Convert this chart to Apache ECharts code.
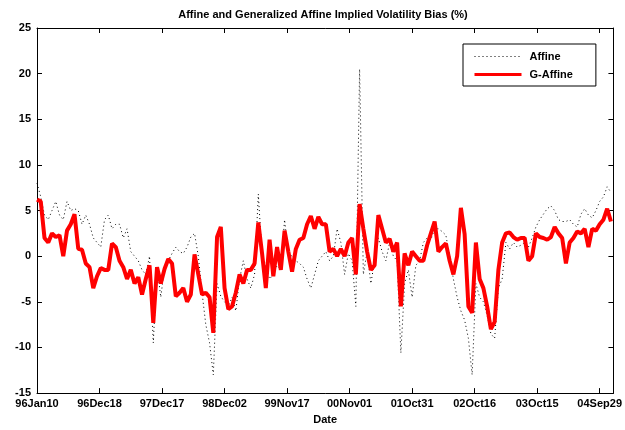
<!DOCTYPE html>
<html>
<head>
<meta charset="utf-8">
<script src="https://cdn.jsdelivr.net/npm/echarts@6/dist/echarts.min.js"></script>
<style>
    html, body { margin: 0; padding: 0; background: #fff; }
    #main { width: 625px; height: 430px; }
</style>
</head>
<body>
<div id="main"></div>
<script>
// one value read every 3rd weekly observation
var STEP = 3;
var X_MAX = 461;
var tickLabels = ["96Jan10", "96Dec18", "97Dec17", "98Dec02", "99Nov17",
    "00Nov01", "01Oct31", "02Oct16", "03Oct15", "04Sep29"];

var affine = [
    8.0, 6.5, 4.5, 4.0, 5.0, 6.0, 4.5, 4.0, 6.0, 5.0,
    5.2, 5.0, 3.5, 4.5, 3.5, 2.0, 1.5, 1.0, 4.0, 4.5,
    3.0, 3.5, 3.5, 2.0, 3.0, 0.5, 0.0, -0.5, -1.5, -2.0,
    0.0, -9.5, -1.2, -4.5, -1.2, -0.5, 0.3, 1.0, 0.5, 0.3,
    1.0, 2.1, 2.5, 0.0, -4.0, -7.5, -9.5, -13.0, -3.0, -4.4,
    -5.0, -5.5, -4.5, -6.0, -2.5, -0.5, -2.5, -3.5, -2.0, 6.8,
    0.0, -1.0, -2.5, -2.0, -1.0, -1.5, 4.0, 0.3, 0.0, -0.5,
    -0.8, -1.2, -2.5, -3.5, -2.0, -0.5, 0.0, 0.5, -0.5, 0.0,
    3.0, 1.5, -2.0, 0.3, -0.5, -5.5, 20.5, -2.0, 0.5, -3.0,
    -0.5, 2.0, 0.5, -0.5, 1.5, 0.0, -0.5, -10.6, -3.0, -1.5,
    -4.5, -1.0, -0.5, 1.5, 2.0, 1.8, 3.0, 3.0, 2.7, 2.3,
    0.0, -2.5, -4.5, -6.0, -7.0, -9.0, -13.0, -3.0, -4.5, -5.0,
    -6.5, -8.5, -9.0, -3.5, -2.5, 1.5, 0.8, 1.5, 1.0, 1.2,
    1.5, 1.0, 2.0, 3.2, 4.0, 4.6, 5.2, 5.5, 5.0, 4.0,
    3.8, 3.8, 4.0, 3.5, 3.2, 4.6, 5.2, 4.5, 4.2, 5.0,
    6.0, 6.5, 7.6, 7.0
];

var gAffine = [
    6.2, 6.0, 2.0, 1.5, 2.5, 2.1, 2.3, 0.0, 2.8, 3.5,
    4.6, 0.8, 0.7, -0.8, -1.2, -3.5, -2.2, -1.3, -1.5, -1.5,
    1.4, 1.0, -0.5, -1.2, -2.5, -1.5, -3.0, -2.3, -4.2, -2.5,
    -1.0, -7.3, -1.2, -3.0, -1.4, -0.3, -0.8, -4.4, -4.0, -3.5,
    -5.0, -4.2, 0.2, -2.0, -4.2, -4.0, -4.5, -8.4, 2.1, 3.2,
    -3.5, -5.8, -5.5, -4.0, -2.0, -3.0, -1.5, -1.5, -0.8, 3.7,
    0.3, -3.5, 1.8, -2.2, 1.0, -1.5, 2.8, 0.5, -1.7, 0.8,
    1.8, 2.0, 3.5, 4.4, 3.0, 4.3, 3.5, 3.5, 0.5, 0.8,
    0.0, 0.8, 0.0, 1.5, 2.0, -2.0, 5.7, 3.0, 0.5, -1.5,
    -1.0, 4.5, 3.0, 1.5, 1.9, 0.5, 1.5, -5.5, 0.3, -1.0,
    0.5, 0.0, -0.5, -0.5, 1.2, 2.5, 3.8, 0.5, 1.0, 1.4,
    -0.5, -2.0, 0.0, 5.3, 2.4, -5.5, -6.2, 1.5, -2.5, -3.5,
    -5.5, -8.0, -7.2, -1.5, 1.5, 2.5, 2.6, 2.1, 1.8, 2.0,
    2.0, -0.5, 0.0, 2.5, 2.1, 2.0, 1.8, 2.1, 3.2, 2.5,
    2.0, -0.8, 1.5, 2.0, 2.7, 2.5, 3.0, 1.0, 3.0, 2.8,
    3.5, 4.0, 5.2, 3.8
];

(function () {
    var myChart = echarts.init(document.getElementById("main"));
    var font = "'Liberation Sans', Arial, Helvetica, sans-serif";
    function pairs(arr) {
        return arr.map(function (v, i) { return [i * STEP, v]; });
    }
    // MATLAB style box: ticks inside on all four sides, axis lines on the frame
    var boxAxis = {
        axisLine: { show: true, onZero: false, lineStyle: { color: "#000", width: 1 } },
        axisTick: { show: true, inside: true, length: 5, lineStyle: { color: "#000" } },
        splitLine: { show: false }
    };
    var option = {
        animation: false,
        textStyle: { fontFamily: font },
        title: {
            text: "Affine and Generalized Affine Implied Volatility Bias (%)",
            left: 318,
            textAlign: "center",
            top: 4,
            textStyle: { fontSize: 11, fontWeight: "bold", color: "#000", fontFamily: font }
        },
        grid: { left: 37, right: 7, top: 28, bottom: 32 },
        legend: {
            orient: "vertical",
            left: 463,
            top: 44,
            itemWidth: 47,
            itemHeight: 12,
            itemGap: 7,
            padding: [7, 23, 6, 10],
            borderColor: "#000",
            borderWidth: 1,
            backgroundColor: "#fff",
            textStyle: { fontSize: 11, fontWeight: "bold", color: "#000", padding: [0, 0, 0, 3] },
            data: [
                {
                    name: "Affine",
                    itemStyle: { opacity: 0, borderWidth: 0 },
                    lineStyle: { color: "#000", width: 1, type: [1, 3] }
                },
                {
                    name: "G-Affine",
                    itemStyle: { opacity: 0, borderWidth: 0 },
                    lineStyle: { color: "#ff0000", width: 3 }
                }
            ]
        },
        xAxis: [
            Object.assign({
                type: "value",
                min: 0,
                max: X_MAX,
                interval: 50,
                name: "Date",
                nameLocation: "middle",
                nameGap: 20,
                nameTextStyle: { fontSize: 11, fontWeight: "bold", color: "#000" },
                axisLabel: {
                    margin: 5,
                    fontSize: 11,
                    fontWeight: "bold",
                    color: "#000",
                    formatter: function (v) {
                        return v % 50 === 0 ? (tickLabels[v / 50] || "") : "";
                    }
                }
            }, boxAxis),
            Object.assign({
                type: "value",
                position: "top",
                min: 0,
                max: X_MAX,
                interval: 50,
                axisLabel: { show: false }
            }, boxAxis)
        ],
        yAxis: [
            Object.assign({
                type: "value",
                min: -15,
                max: 25,
                interval: 5,
                axisLabel: { margin: 6, fontSize: 11, fontWeight: "bold", color: "#000" }
            }, boxAxis),
            Object.assign({
                type: "value",
                position: "right",
                min: -15,
                max: 25,
                interval: 5,
                axisLabel: { show: false }
            }, boxAxis)
        ],
        series: [
            {
                name: "Affine",
                type: "line",
                data: pairs(affine),
                symbol: "none",
                lineStyle: { color: "#000", width: 1, type: [1, 3] },
                itemStyle: { color: "#000" },
                z: 2
            },
            {
                name: "G-Affine",
                type: "line",
                data: pairs(gAffine),
                symbol: "none",
                lineStyle: { color: "#ff0000", width: 4 },
                itemStyle: { color: "#ff0000" },
                z: 3
            }
        ]
    };
    myChart.setOption(option);
    window.addEventListener("resize", function () {
        myChart.resize();
    });
})();
</script>
</body>
</html>
